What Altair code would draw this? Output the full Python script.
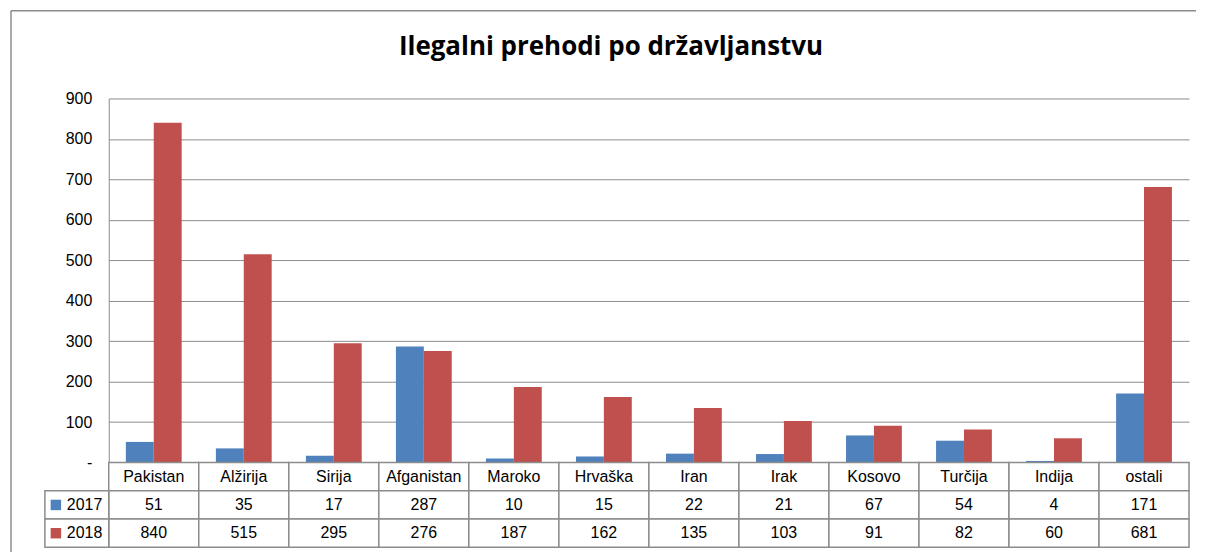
import altair as alt
import pandas as pd

title_text = "Ilegalni prehodi po državljanstvu"
categories = ["Pakistan", "Alžirija", "Sirija", "Afganistan", "Maroko", "Hrvaška",
              "Iran", "Irak", "Kosovo", "Turčija", "Indija", "ostali"]
years = ["2017", "2018"]
values_2017 = [51, 35, 17, 287, 10, 15, 22, 21, 67, 54, 4, 171]
values_2018 = [840, 515, 295, 276, 187, 162, 135, 103, 91, 82, 60, 681]
y_ticks = [0, 100, 200, 300, 400, 500, 600, 700, 800, 900]
colors = ["#4F81BD", "#C0504D"]
rows = ["cat", "2017", "2018"]

W, H, TH = 1083, 365, 85
GRAY = "#8C8C8C"
FONT = "Liberation Sans"

series = {"2017": values_2017, "2018": values_2018}
bars_df = pd.DataFrame([
    {"country": c, "year": y, "value": series[y][i]}
    for y in years for i, c in enumerate(categories)
])

cells = []
for i, c in enumerate(categories):
    cells.append({"country": c, "row": "cat", "label": c})
    for y in years:
        cells.append({"country": c, "row": y, "label": str(series[y][i])})
cells_df = pd.DataFrame(cells)
legend_df = pd.DataFrame({"row": years, "year": years})
one = pd.DataFrame({"t": [title_text]})

color = alt.Color("year:N", scale=alt.Scale(domain=years, range=colors), legend=None)

bars = alt.Chart(bars_df).mark_bar().encode(
    x=alt.X("country:N", sort=categories,
            scale=alt.Scale(domain=categories, paddingInner=0.38, paddingOuter=0.19),
            axis=None),
    xOffset=alt.XOffset("year:N", sort=years, scale=alt.Scale(domain=years)),
    y=alt.Y("value:Q", scale=alt.Scale(domain=[0, 900], nice=False),
            axis=alt.Axis(values=y_ticks, title=None, grid=True, gridColor=GRAY,
                          domainColor=GRAY, ticks=False, labelFontSize=16,
                          labelFont=FONT, labelColor="#000000", labelPadding=17,
                          labelExpr="datum.value == 0 ? '-' : datum.label")),
    color=color,
)

border_left = alt.Chart(one).mark_rule(color=GRAY, strokeWidth=1.5).encode(
    x=alt.value(-98), y=alt.value(-88), y2=alt.value(H + TH + 12)
)
border_top = alt.Chart(one).mark_rule(color=GRAY, strokeWidth=1.5).encode(
    x=alt.value(-98), x2=alt.value(W + 7), y=alt.value(-88)
)

title = alt.Chart(one).mark_text(fontSize=26, fontWeight="bold", font="Open Sans",
                                 baseline="middle", align="center", color="#000000").encode(
    text="t:N", x=alt.value(W / 2 - 38), y=alt.value(-52)
)

top = alt.layer(border_left, border_top, bars, title).properties(width=W, height=H)

xt = alt.X("country:N", sort=categories,
           scale=alt.Scale(domain=categories, paddingInner=0, paddingOuter=0), axis=None)
yt = alt.Y("row:N", sort=rows, scale=alt.Scale(domain=rows, paddingInner=0, paddingOuter=0),
           axis=None)

cell_rect = alt.Chart(cells_df).mark_rect(fill="white", stroke=GRAY, strokeWidth=1.5).encode(
    x=xt, y=yt)
cell_text = alt.Chart(cells_df).mark_text(fontSize=16, font=FONT, color="#000000").encode(
    x=xt, y=yt, text="label:N")
leg_rect = alt.Chart(legend_df).mark_rect(fill="white", stroke=GRAY, strokeWidth=1.5).encode(
    x=alt.value(-64), x2=alt.value(0), y=yt)
leg_sq = alt.Chart(legend_df).mark_point(shape="square", filled=True, size=110, opacity=1).encode(
    x=alt.value(-53), y=yt, color=color)
leg_text = alt.Chart(legend_df).mark_text(fontSize=16, font=FONT, align="left",
                                          color="#000000").encode(
    x=alt.value(-42), y=yt, text="row:N")

table = alt.layer(cell_rect, cell_text, leg_rect, leg_sq, leg_text).properties(width=W, height=TH)

chart = alt.vconcat(top, table, spacing=0, bounds="flush").resolve_scale(
    x="independent", y="independent"
).properties(
    padding={"left": 1, "top": 0, "right": 0, "bottom": 0}
).configure_view(stroke="transparent")

chart.save("out.html", embed_options={"renderer": "svg", "actions": False})
